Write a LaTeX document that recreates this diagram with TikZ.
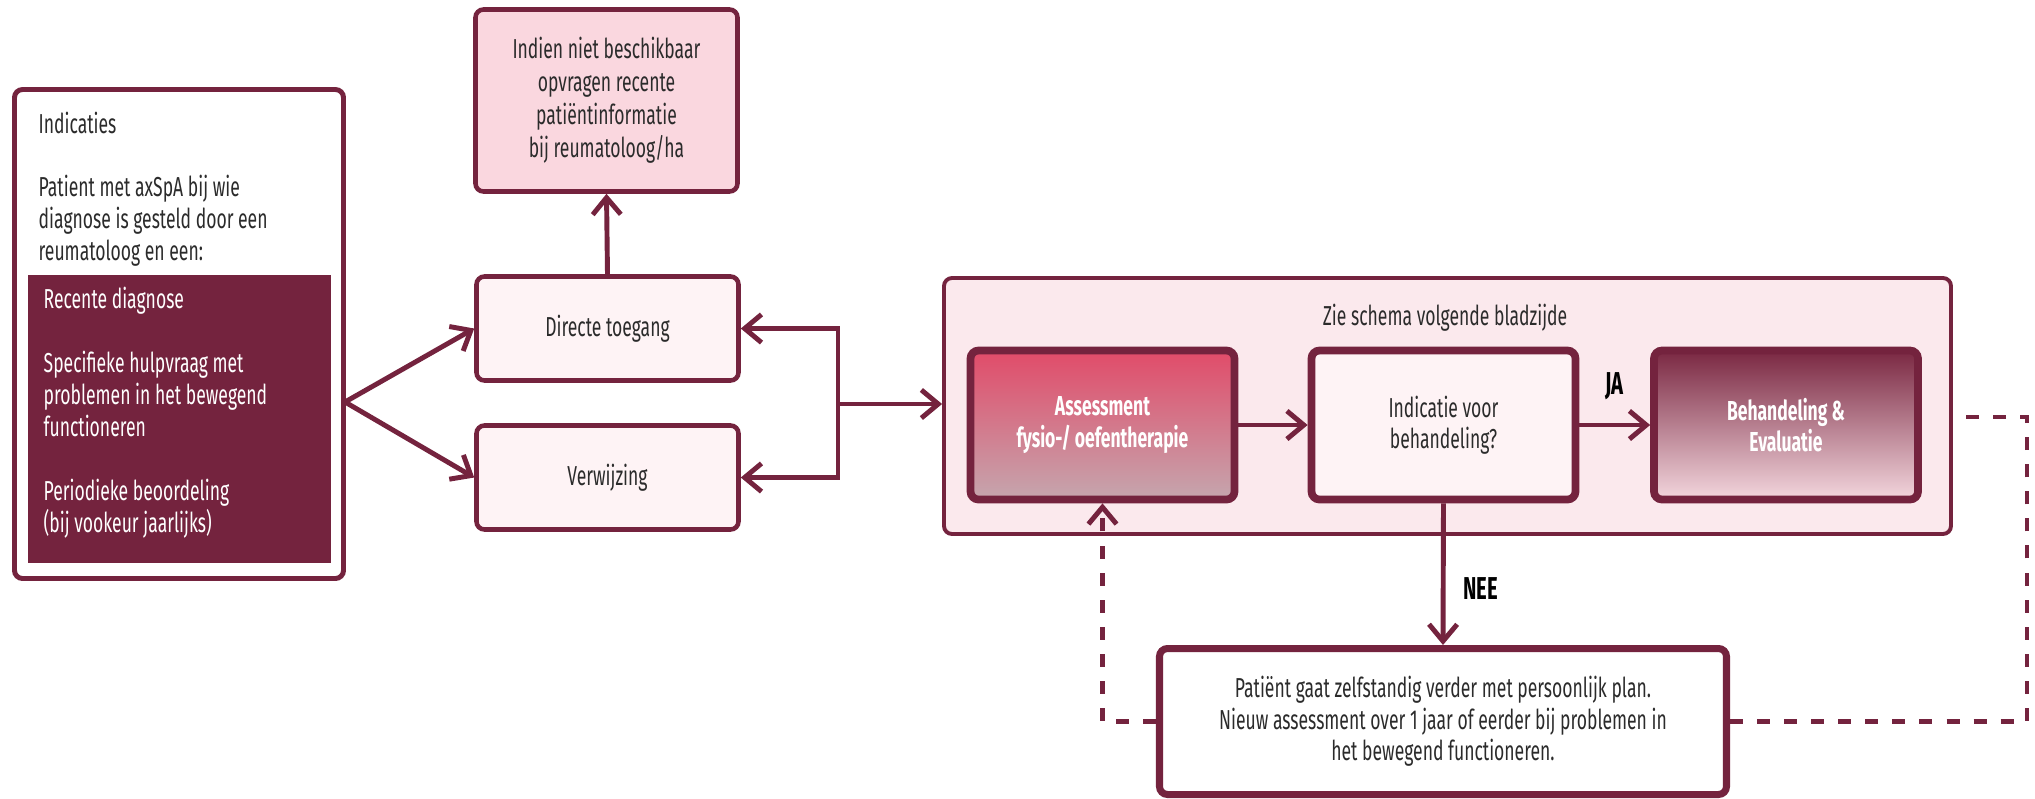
\documentclass[tikz,border=0pt]{standalone}
\usepackage{fontspec}
\setmainfont{Fira Sans}[FakeStretch=0.64]
\usetikzlibrary{arrows.meta}
\definecolor{wijn}{HTML}{74233E}
\definecolor{roze}{HTML}{FAD7DF}
\definecolor{lichtroze}{HTML}{FEF3F5}
\definecolor{kaderroze}{HTML}{FBE9ED}
\definecolor{tekst}{HTML}{2B2B2B}
\definecolor{assboven}{HTML}{E14B69}
\definecolor{assonder}{HTML}{C5A6AE}
\definecolor{behboven}{HTML}{7A2842}
\definecolor{behonder}{HTML}{F3D6DD}

\begin{document}
\begin{tikzpicture}[x=0.1mm, y=-0.1mm, font=\fontsize{7.8}{8.9}\selectfont, text=tekst]
	% Stijlen voor blokken en pijlen
	\tikzset{
		blok/.style={draw=wijn, line width=1.3pt, rounded corners=0.8mm, inner sep=0pt, align=center},
		vak/.style={blok, line width=2.2pt, minimum width=26.4mm, minimum height=14.9mm},
		regel/.style={anchor=base west, inner sep=0pt, align=left, font=\fontsize{7.8}{9.1}\selectfont},
		pijl/.style={draw=wijn, line width=1.4pt, -{Straight Barb[length=4.8pt,width=8pt]}},
		stippel/.style={pijl, dash pattern=on 3.7pt off 4pt},
		antwoord/.style={font=\fontsize{9}{10}\selectfont\bfseries, text=black, inner sep=0pt}
	}
	\useasboundingbox (0,0) rectangle (2035,798);
	
	% Indicaties links (ankers op de laatste regel)
	\node[blok, line width=1.4pt, fill=white, minimum width=32.9mm, minimum height=48.9mm] (indicaties) at (179,334) {};
	\node[fill=wijn, minimum width=30.3mm, minimum height=28.8mm, inner sep=0pt] (lijst) at (179.5,419) {};
	\node[regel] (titel) at (38,133) {Indicaties};
	\node[regel] (patient) at (38,260) {Patient met axSpA bij wie\\diagnose is gesteld door een\\reumatoloog en een:};
	\node[regel, text=white] (recent) at (43,308) {Recente diagnose};
	\node[regel, text=white] (hulpvraag) at (43,436) {Specifieke hulpvraag met\\problemen in het bewegend\\functioneren};
	\node[regel, text=white] (periodiek) at (43,532) {Periodieke beoordeling\\(bij vookeur jaarlijks)};
	
	% Toegang
	\node[blok, fill=roze, minimum width=26.2mm, minimum height=18.2mm, font=\fontsize{7.8}{9.4}\selectfont] (indien) at (606.5,100.5) {Indien niet beschikbaar\\opvragen recente\\patiëntinformatie\\bij reumatoloog/ha};
	\node[blok, fill=lichtroze, minimum width=26.2mm, minimum height=10.4mm] (directe) at (607.5,328.5) {Directe toegang};
	\node[blok, fill=lichtroze, minimum width=26.2mm, minimum height=10.4mm] (verwijzing) at (607.5,477.5) {Verwijzing};
	
	% Schema
	\node[blok, line width=1.1pt, fill=kaderroze, minimum width=100.7mm, minimum height=25.6mm] (schema) at (1447.5,406) {};
	\node[anchor=base, inner sep=0pt] (zie) at (1445,325) {Zie schema volgende bladzijde};
	\node[vak, top color=assboven, bottom color=assonder, text=white, font=\fontsize{7.8}{8.9}\selectfont\bfseries] (assess) at (1102.5,425) {Assessment\\fysio-/ oefentherapie};
	\node[vak, fill=lichtroze] (indicatie) at (1443.5,425) {Indicatie voor\\behandeling?};
	\node[vak, top color=behboven, bottom color=behonder, text=white, font=\fontsize{7.8}{8.9}\selectfont\bfseries] (behandeling) at (1786,425) {Behandeling \&\\Evaluatie};
	
	% Vervolg
	\node[blok, line width=2pt, fill=white, minimum width=56.7mm, minimum height=14.6mm, font=\fontsize{7.8}{9}\selectfont] (zelf) at (1443,721.5) {Patiënt gaat zelfstandig verder met persoonlijk plan.\\Nieuw assessment over 1 jaar of eerder bij problemen in\\het bewegend functioneren.};
	
	\coordinate (splits) at (345,402);
	\coordinate (knik) at (838,404);
	\coordinate (hoek) at (2027,417);
	
	% Pijlen
	\draw[pijl] (splits) -- (directe.west);
	\draw[pijl] (splits) -- (verwijzing.west);
	\draw[pijl] (directe.north) -- (indien.south);
	\draw[pijl] (knik) |- (directe.east);
	\draw[pijl] (knik) |- (verwijzing.east);
	\draw[pijl] (knik) -- (knik -| schema.west);
	\draw[pijl] (assess.east) -- (indicatie.west);
	\draw[pijl] (indicatie.east) -- (behandeling.west) node[antwoord, midway, above=6.5pt] (ja) {JA};
	\draw[pijl] (indicatie.south) -- (zelf.north) node[antwoord, pos=0.6, right=5pt] (nee) {NEE};
	\draw[stippel] (zelf.west) -| (assess.south);
	\draw[stippel, -] (zelf.east) -| (hoek) -- (hoek -| schema.east);
\end{tikzpicture}
\end{document}
